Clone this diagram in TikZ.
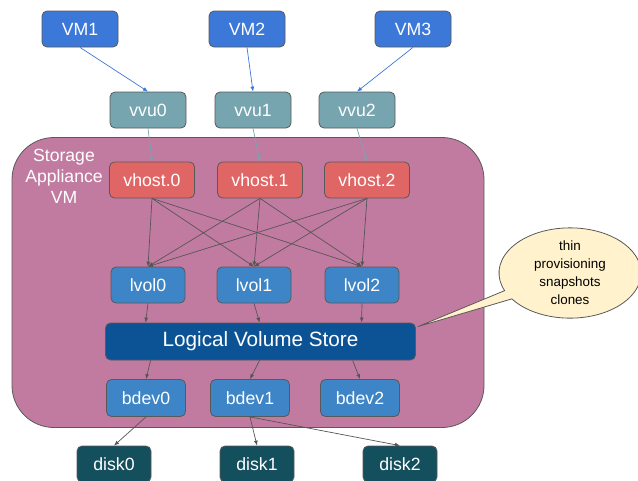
\documentclass[tikz,border=0pt]{standalone}
\usepackage{fontspec}
\setmainfont{Liberation Sans}
\usetikzlibrary{shapes.callouts,arrows.meta,calc}
\definecolor{bordergray}{HTML}{595959}
\definecolor{vmblue}{HTML}{3C78D8}
\definecolor{vvucol}{HTML}{76A5AF}
\definecolor{sacol}{HTML}{C27BA0}
\definecolor{vhostcol}{HTML}{E06666}
\definecolor{lvolcol}{HTML}{3D85C6}
\definecolor{lvscol}{HTML}{0B5394}
\definecolor{diskcol}{HTML}{134F5C}
\definecolor{callfill}{HTML}{FFF2CC}
\definecolor{arrgray}{HTML}{555555}
\begin{document}
\begin{tikzpicture}[x=1pt,y=-1pt,
  box/.style={draw=bordergray, rounded corners=5pt, text=white, inner sep=0pt,
    minimum height=36pt, line width=0.8pt, font=\fontsize{17.7}{20}\selectfont},
  vmbox/.style={box, fill=vmblue, minimum width=76pt},
  vvubox/.style={box, fill=vvucol, minimum width=76pt},
  vhostbox/.style={box, fill=vhostcol, minimum width=85pt},
  lvolbox/.style={box, fill=lvolcol, minimum width=74pt},
  bdevbox/.style={box, fill=lvolcol, minimum width=79pt, minimum height=37pt},
  diskbox/.style={box, fill=diskcol, minimum width=74pt},
  lvsbox/.style={box, fill=lvscol, minimum width=310pt, minimum height=37pt, font=\fontsize{20.7}{24}\selectfont},
  arr/.style={-{Latex[length=5pt,width=4pt]}, line width=0.7pt, draw=arrgray},
  barr/.style={arr, draw=vmblue},
  tarr/.style={arr, draw=vvucol},
]
\useasboundingbox (0,0) rectangle (638,480);

% container
\node[draw=bordergray, fill=sacol, rounded corners=42pt, line width=0.8pt,
  minimum width=472pt, minimum height=290pt, inner sep=0pt] (sa) at (248,282.5) {};
\node[text=white, align=center, font=\fontsize{17.6}{21}\selectfont, inner sep=0pt] (salabel) at (64,176) {Storage\\Appliance\\VM};

% VMs
\node[vmbox] (vm1) at (80,29) {VM1};
\node[vmbox] (vm2) at (247,29) {VM2};
\node[vmbox] (vm3) at (413,29) {VM3};

% vvu
\node[vvubox] (vvu0) at (148,110) {vvu0};
\node[vvubox] (vvu1) at (253,110) {vvu1};
\node[vvubox] (vvu2) at (357,110) {vvu2};

% vhost
\node[vhostbox] (vh0) at (152,180) {vhost.0};
\node[vhostbox] (vh1) at (260,180) {vhost.1};
\node[vhostbox] (vh2) at (367,180) {vhost.2};

% lvol
\node[lvolbox] (lv0) at (148,285) {lvol0};
\node[lvolbox] (lv1) at (254,285) {lvol1};
\node[lvolbox] (lv2) at (362,285) {lvol2};

% LVS
\node[lvsbox] (lvs) at (260.5,341.5) {Logical Volume Store};

% bdev
\node[bdevbox] (bd0) at (146,398) {bdev0};
\node[bdevbox] (bd1) at (250,398) {bdev1};
\node[bdevbox] (bd2) at (360,398) {bdev2};

% disks
\node[diskbox] (dk0) at (114,464) {disk0};
\node[diskbox] (dk1) at (257,464) {disk1};
\node[diskbox] (dk2) at (400,464) {disk2};

% callout
\node[ellipse callout, draw=bordergray, fill=callfill, line width=0.8pt,
  minimum width=142pt, minimum height=68pt, inner sep=0pt, align=center,
  font=\fontsize{13.4}{18}\selectfont,
  callout absolute pointer={($(lvs.north east)+(2,4)$)}, callout pointer arc=12]
  (note) at (570,273) {thin\\provisioning\\snapshots\\clones};

% VM -> vvu
\draw[barr] (vm1.south) -- (vvu0.north);
\draw[barr] (vm2.south) -- (vvu1.north);
\draw[barr] (vm3.south) -- (vvu2.north);

% vvu -> vhost
\draw[tarr] (vvu0.south) -- (vh0.north);
\draw[tarr] (vvu1.south) -- (vh1.north);
\draw[tarr] (vvu2.south) -- (vh2.north);

% vhost -> lvol (all to all)
\foreach \h in {vh0,vh1,vh2}{
  \foreach \l in {lv0,lv1,lv2}{
    \draw[arr] (\h.south) -- (\l.north);
  }
}

% lvol -> LVS
\draw[arr] (lv0.south) -- ($(lvs.north west)+(40.5,0)$);
\draw[arr] (lv1.south) -- ($(lvs.north west)+(154.5,0)$);
\draw[arr] (lv2.south) -- ($(lvs.north west)+(256.5,0)$);

% LVS -> bdev
\draw[arr] ($(lvs.south west)+(45.5,0)$) -- (bd0.north);
\draw[arr] ($(lvs.south west)+(154.5,0)$) -- (bd1.north);
\draw[arr] ($(lvs.south west)+(247.5,0)$) -- (bd2.north);

% bdev -> disk
\draw[arr] (bd0.south) -- (dk0.north);
\draw[arr] (bd1.south) -- (dk1.north);
\draw[arr] (bd1.south) -- (dk2.north);
\end{tikzpicture}
\end{document}
